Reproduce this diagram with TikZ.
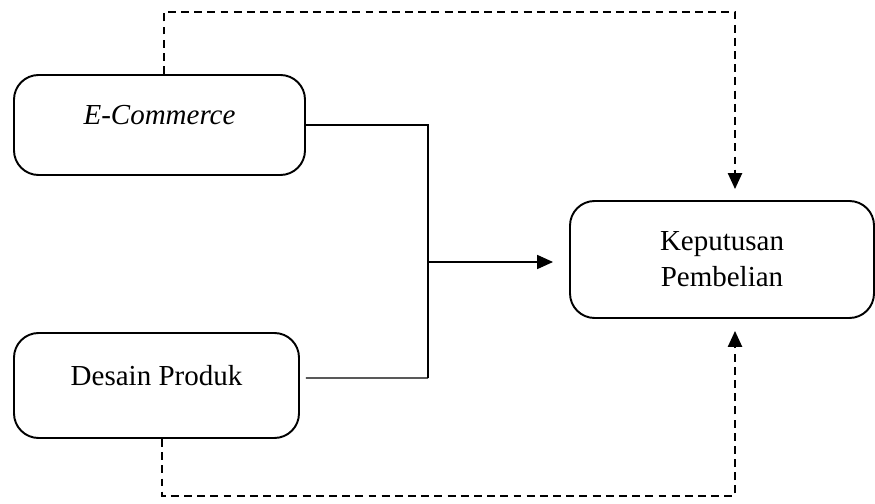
\documentclass[tikz,border=0pt]{standalone}
\usepackage{fontspec}
\setmainfont{Liberation Serif}
\usetikzlibrary{arrows.meta}

\begin{document}
\begin{tikzpicture}[
    kotak/.style={draw, rounded corners=14pt, line width=1.1pt, align=center, font=\fontsize{16.5}{20.5}\selectfont},
    panah/.style={-{Triangle[length=9pt,width=8pt]}},
    putus/.style={dashed, dash pattern=on 4.5pt off 3pt, line width=1pt}
]
    \useasboundingbox (0,0) rectangle (17.5,10.08);

    % Kotak
    \node (ecommerce) at (3.19,7.58) [kotak, minimum width=5.82cm, minimum height=2cm, text height=12pt, text depth=12pt] {\textit{E-Commerce}};
    \node (desain) at (3.13,2.37) [kotak, minimum width=5.7cm, minimum height=2.1cm, text height=12pt, text depth=12pt] {Desain Produk};
    \node (keputusan) at (14.44,4.89) [kotak, minimum width=6.08cm, minimum height=2.34cm] {Keputusan\\Pembelian};

    % Titik bantu
    \coordinate (atas) at (8.56,7.58);
    \coordinate (bawah) at (8.56,2.52);
    \coordinate (tengah) at (8.56,4.84);
    \coordinate (ujung) at (11.06,4.84);

    % Garis pengaruh
    \draw[line width=0.6pt] (ecommerce.east) -- (atas) -- (bawah);
    \draw[line width=0.6pt] ([shift={(0.12,0.15)}]desain.east) -- (bawah);
    \draw[line width=0.6pt, panah] (tengah) -- (ujung);

    % Garis putus-putus
    \draw[putus, panah] ([xshift=0.09cm]ecommerce.north) |- (14.7,9.84) -- ([xshift=0.26cm, yshift=0.22cm]keputusan.north);
    \draw[putus, panah] ([xshift=0.11cm]desain.south) |- (14.7,0.16) -- ([xshift=0.26cm, yshift=-0.24cm]keputusan.south);
\end{tikzpicture}
\end{document}
